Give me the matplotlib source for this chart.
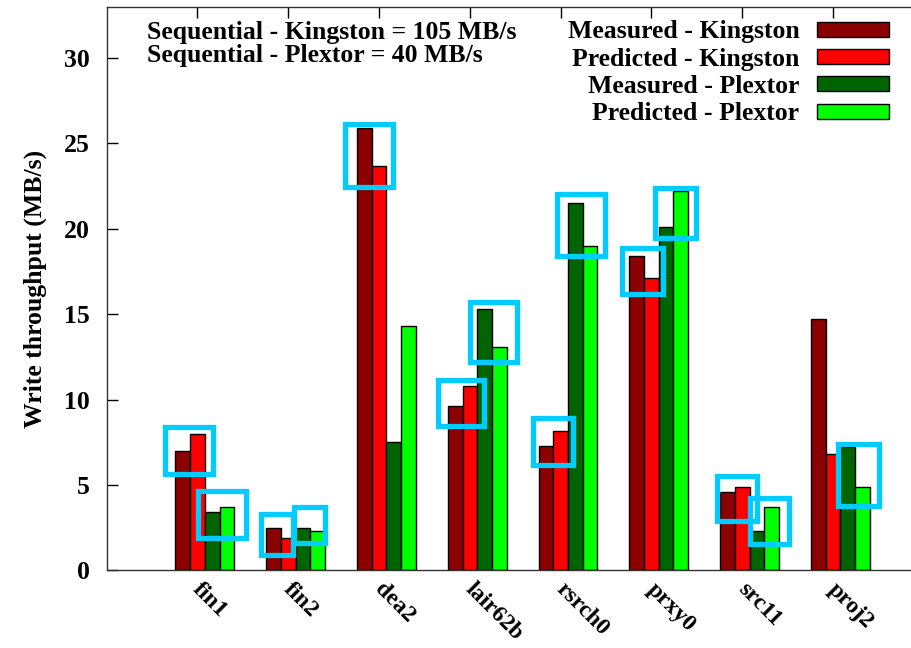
import matplotlib
matplotlib.use('Agg')
from matplotlib import pyplot as plt
from matplotlib.patches import Rectangle
from matplotlib.transforms import ScaledTranslation
import numpy as np

plt.rcParams['font.family'] = ['Liberation Serif', 'DejaVu Serif']
plt.rcParams['font.weight'] = 'bold'
plt.rcParams['axes.labelweight'] = 'bold'

traces = ['fin1', 'fin2', 'dea2', 'lair62b', 'rsrch0', 'prxy0', 'src11', 'proj2']
series_names = ['Measured - Kingston', 'Predicted - Kingston',
                'Measured - Plextor', 'Predicted - Plextor']
measured_kingston = [7.0, 2.5, 25.9, 9.6, 7.3, 18.4, 4.6, 14.7]
predicted_kingston = [8.0, 1.9, 23.7, 10.8, 8.15, 17.1, 4.9, 6.8]
measured_plextor = [3.4, 2.5, 7.5, 15.3, 21.5, 20.1, 2.3, 7.2]
predicted_plextor = [3.7, 2.3, 14.3, 13.1, 19.0, 22.2, 3.7, 4.9]
colors = ['#8b0000', '#ff0000', '#006400', '#00ff00']

# highlighted pairs: (trace index, pair 0=Kingston 1=Plextor, low, high, pad left, pad right)
highlights = [
    (0, 0, 5.64, 8.41, 0.11, 0.09),
    (0, 1, 1.88, 4.65, 0.08, 0.13),
    (1, 0, 0.92, 3.33, 0.06, -0.03),
    (1, 1, 1.61, 3.71, 0.02, 0.0),
    (2, 0, 22.46, 26.16, 0.13, 0.07),
    (3, 0, 8.47, 11.15, 0.11, 0.08),
    (3, 1, 12.2, 15.7, 0.08, 0.11),
    (4, 0, 6.16, 8.9, 0.06, 0.06),
    (4, 1, 18.41, 22.04, 0.12, 0.08),
    (5, 0, 16.16, 18.88, 0.08, 0.05),
    (5, 1, 19.48, 22.39, 0.04, 0.09),
    (6, 0, 2.87, 5.53, 0.04, 0.08),
    (6, 1, 1.58, 4.26, 0.0, 0.11),
    (7, 1, 3.79, 7.38, 0.03, 0.10),
]

FS = 18.5
fig = plt.figure(figsize=(9.12, 6.48), dpi=100)
ax = fig.add_axes([0.117, 0.1196, 0.883, 0.8701])

x = np.arange(len(traces))
width = 0.162
all_series = [measured_kingston, predicted_kingston, measured_plextor, predicted_plextor]
for j, (vals, name) in enumerate(zip(all_series, series_names)):
    ax.bar(x + (j - 1) * width, vals, width, color=colors[j], edgecolor='black',
           linewidth=1.0, label=name, zorder=2)

for idx, pair, low, high, pl, pr in highlights:
    left = idx + (2 * pair - 1.5) * width - pl
    right = idx + (2 * pair + 0.5) * width + pr
    ax.add_patch(Rectangle((left, low), right - left, high - low, fill=False,
                           edgecolor='#00ccff', linewidth=3.8, zorder=3))

ax.set_xlim(-1, 7.87)
ax.set_ylim(0, 33)
ax.set_yticks(range(0, 31, 5))
ax.set_xticks(x)
ax.set_xticklabels(traces, rotation=-45, ha='left', va='top', rotation_mode='anchor')
ax.tick_params(axis='both', direction='in', length=8, labelsize=FS, width=1.0)
ax.tick_params(axis='x', top=True, pad=6, labelsize=17)
ax.tick_params(axis='y', pad=12)
shift = ScaledTranslation(6 / 100, 0, fig.dpi_scale_trans)
for lbl in ax.get_xticklabels():
    lbl.set_transform(lbl.get_transform() + shift)
ax.spines['right'].set_visible(False)
for s in ['left', 'top', 'bottom']:
    ax.spines[s].set_linewidth(1.0)
    ax.spines[s].set_color('#333333')

ax.set_ylabel('Write throughput (MB/s)', fontsize=FS, labelpad=12)

ax.text(0.05, 0.975, 'Sequential - Kingston = 105 MB/s\nSequential - Plextor = 40 MB/s',
        transform=ax.transAxes, fontsize=FS, ha='left', va='top', linespacing=1.0)

ax.legend(loc='upper right', bbox_to_anchor=(0.994, 1.008), frameon=False, fontsize=FS,
          markerfirst=False, handlelength=2.8, handleheight=0.52, handletextpad=0.7,
          labelspacing=0.17, borderpad=0.2)

fig.savefig('out.png', dpi=100)
